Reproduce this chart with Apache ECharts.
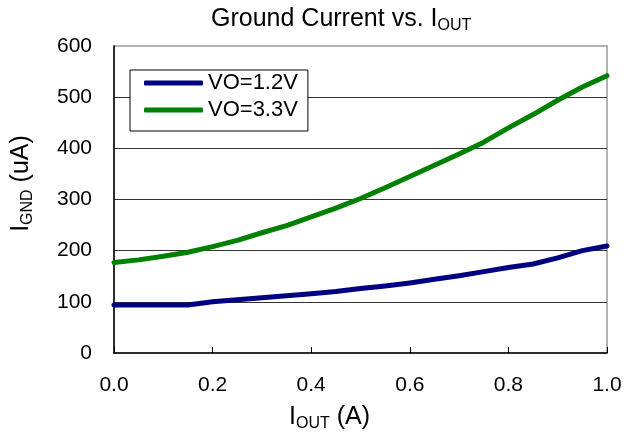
<!DOCTYPE html>
<html>
<head>
<meta charset="utf-8">
<script src="https://cdn.jsdelivr.net/npm/echarts@6/dist/echarts.min.js"></script>
<style>
html,body{margin:0;padding:0;background:#fff;}
#main{width:630px;height:434px;}
</style>
</head>
<body>
<div id="main"></div>
<script>
var iout = [0, 0.05, 0.1, 0.15, 0.2, 0.25, 0.3, 0.35, 0.4, 0.45, 0.5, 0.55, 0.6, 0.65, 0.7, 0.75, 0.8, 0.85, 0.9, 0.95, 1.0];
var vo12 = [94, 94, 94, 94, 100, 104, 108, 112, 116, 120, 126, 131, 137, 144, 151, 159, 167, 174, 186, 200, 209];
var vo33 = [177, 182, 189, 197, 208, 220, 235, 249, 266, 283, 302, 323, 345, 367, 389, 412, 440, 466, 494, 520, 542];
var seriesNames = ['VO=1.2V', 'VO=3.3V'];
var colorLine = ['#000080', '#008000'];

var fontName = '"Liberation Sans", Arial, sans-serif';

function pairs(ys) {
    var out = [];
    for (var i = 0; i < iout.length; i++) {
        out.push([iout[i], ys[i]]);
    }
    return out;
}

// main text + subscript styles, shared by title and axis names
var subRich = {
    a: { fontSize: 25, lineHeight: 30, fontWeight: 'normal', fontFamily: fontName, color: '#000' },
    s: { fontSize: 16, lineHeight: 16, verticalAlign: 'bottom', fontWeight: 'normal', fontFamily: fontName, color: '#000' }
};

var chart = echarts.init(document.getElementById('main'));

var option = {
    backgroundColor: '#fff',
    animation: false,
    textStyle: { fontFamily: fontName, color: '#000' },
    title: {
        text: '{a|Ground Current vs. I}{s|OUT}',
        left: 211,
        top: 4,
        padding: 0,
        textStyle: { fontWeight: 'normal', rich: subRich }
    },
    legend: {
        orient: 'vertical',
        left: 130,
        top: 70,
        padding: [2, 10, 10, 14],
        itemGap: 5,
        itemWidth: 59,
        itemHeight: 5,
        icon: 'roundRect',
        backgroundColor: '#fff',
        borderColor: '#000',
        borderWidth: 1,
        borderRadius: 0,
        data: seriesNames,
        textStyle: { fontSize: 22, lineHeight: 22, color: '#000', fontFamily: fontName }
    },
    grid: {
        left: 114,
        top: 46,
        right: 23,
        bottom: 81,
        show: true,
        borderColor: '#999',
        borderWidth: 1.5,
        containLabel: false,
        outerBoundsMode: 'none'
    },
    xAxis: {
        type: 'value',
        min: 0,
        max: 1,
        interval: 0.2,
        name: '{a|I}{s|OUT}{a| (A)}',
        nameLocation: 'middle',
        nameGap: 49,
        nameTextStyle: { padding: [0, 62, 0, 0], rich: subRich },
        axisLine: { lineStyle: { color: '#000', width: 1.5 } },
        axisTick: { show: true, inside: true, length: 6, lineStyle: { color: '#000' } },
        axisLabel: {
            fontSize: 21,
            color: '#000',
            margin: 22,
            formatter: function (v) { return v.toFixed(1); }
        },
        splitLine: { show: false }
    },
    yAxis: {
        type: 'value',
        min: 0,
        max: 600,
        interval: 100,
        name: '{a|I}{s|GND}{a| (uA)}',
        nameLocation: 'middle',
        nameRotate: 90,
        nameGap: 78,
        nameTextStyle: { padding: [0, 0, 0, 32], rich: subRich },
        axisLine: { show: true, lineStyle: { color: '#000', width: 1.5 } },
        axisTick: { show: false },
        axisLabel: { fontSize: 21, color: '#000', margin: 22 },
        splitLine: {
            show: true,
            showMinLine: false,
            showMaxLine: false,
            lineStyle: { color: '#333', width: 1 }
        }
    },
    series: [
        {
            name: seriesNames[0],
            type: 'line',
            data: pairs(vo12),
            showSymbol: false,
            symbol: 'none',
            color: colorLine[0],
            lineStyle: { width: 5, color: colorLine[0], cap: 'round', join: 'round' }
        },
        {
            name: seriesNames[1],
            type: 'line',
            data: pairs(vo33),
            showSymbol: false,
            symbol: 'none',
            color: colorLine[1],
            lineStyle: { width: 5, color: colorLine[1], cap: 'round', join: 'round' }
        }
    ]
};

chart.setOption(option);
</script>
</body>
</html>
